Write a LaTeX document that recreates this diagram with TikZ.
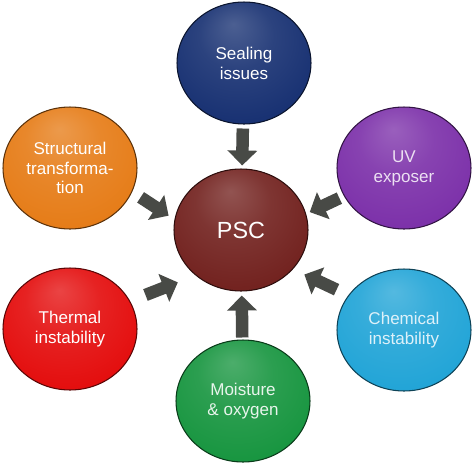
\documentclass[tikz,border=0pt]{standalone}
\usepackage{fontspec}
\setmainfont{Liberation Sans}
\usetikzlibrary{shapes.geometric,arrows.meta}

\definecolor{sealblue}{RGB}{25,50,115}
\definecolor{structorange}{RGB}{230,125,25}
\definecolor{uvpurple}{RGB}{125,50,170}
\definecolor{pscbrown}{RGB}{115,35,32}
\definecolor{thermalred}{RGB}{228,15,15}
\definecolor{chemcyan}{RGB}{35,165,215}
\definecolor{moistgreen}{RGB}{25,150,65}
\definecolor{arrowgray}{RGB}{72,74,70}

\colorlet{spherecol}{blue}
\pgfdeclareradialshading[spherecol]{sphere}{\pgfpoint{-4bp}{16bp}}{%
  color(0bp)=(spherecol!78!white);
  color(14bp)=(spherecol!92!white);
  color(30bp)=(spherecol);
  color(43bp)=(spherecol!88!black);
  color(50bp)=(spherecol!60!black)}

\tikzset{
  sphere/.style={ellipse, minimum width=2.68cm, minimum height=2.44cm, inner sep=0pt,
    align=center, draw=#1!40!black, line width=0.6pt,
    /utils/exec={\colorlet{spherecol}{#1}}, shading=sphere,
    text=white, font=\fontsize{9.7}{11.3}\selectfont},
  fatarrow/.style={draw=arrowgray, line width=0.25cm, -{Triangle[width=0.58cm,length=0.3cm]}}
}

\begin{document}
\begin{tikzpicture}[x=0.02cm,y=-0.02cm]
            \useasboundingbox (0,0) rectangle (474,464);

            \node[sphere=pscbrown, font=\fontsize{13.3}{15}\selectfont] (psc) at (241,230) {PSC};
            \node[sphere=sealblue] (seal) at (244,63) {Sealing\\issues};
            \node[sphere=structorange] (struct) at (70,168) {Structural\\transforma-\\tion};
            \node[sphere=uvpurple, text=uvpurple!15!white] (uv) at (404,168) {UV\\exposer};
            \node[sphere=thermalred] (thermal) at (70,329) {Thermal\\instability};
            \node[sphere=chemcyan, text=chemcyan!15!white] (chem) at (404,330) {Chemical\\instability};
            \node[sphere=moistgreen, text=moistgreen!10!white] (moist) at (243,401) {Moisture\\\& oxygen};

            \draw[fatarrow, shorten <=0.08cm, shorten >=0.06cm] (seal) -- (psc);
            \draw[fatarrow, shorten <=0.04cm, shorten >=0.08cm] (moist) -- (psc);
            \draw[fatarrow, shorten <=0.2cm, shorten >=0.14cm] (struct.-21) -- (psc.171);
            \draw[fatarrow, shorten <=0.1cm, shorten >=0.08cm] (uv.205) -- (psc.14);
            \draw[fatarrow, shorten <=0.33cm, shorten >=0.38cm] (thermal.25) -- (psc.225);
            \draw[fatarrow, shorten <=0.26cm, shorten >=0.25cm] (chem.148) -- (psc.-37);
        \end{tikzpicture}
\end{document}
